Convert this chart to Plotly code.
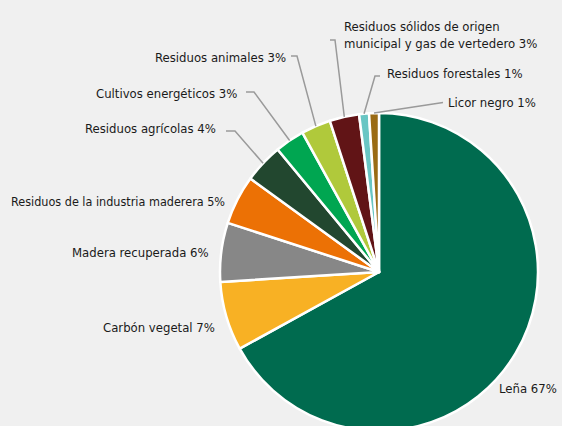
import math
import plotly.graph_objects as go

# ---- data ----
labels = ["Leña", "Carbón vegetal", "Madera recuperada",
          "Residuos de la industria maderera", "Residuos agrícolas",
          "Cultivos energéticos", "Residuos animales",
          "Residuos sólidos de origen municipal y gas de vertedero",
          "Residuos forestales", "Licor negro"]
values = [67, 7, 6, 5, 4, 3, 3, 3, 1, 1]
label_texts = ["Leña 67%", "Carbón vegetal 7%", "Madera recuperada 6%",
               "Residuos de la industria maderera 5%", "Residuos agrícolas 4%",
               "Cultivos energéticos 3%", "Residuos animales 3%",
               "Residuos sólidos de origen<br>municipal y gas de vertedero 3%",
               "Residuos forestales 1%", "Licor negro 1%"]
colors = ["#006b4f", "#f8b124", "#878787", "#ec7105", "#22472f",
          "#00a651", "#b0c93b", "#611416", "#69c6c4", "#9a6b14"]

# ---- layout / styling ----
W, H = 562, 436
CX, CY, R = 379, 272, 159
# label placement (pixel coords): x, y, anchor, font size, leader elbow points
label_style = [
    (559, 388, "right", 13, None),
    (217, 327, "right", 13, None),
    (211, 252, "right", 13, None),
    (227, 201, "right", 12.5, None),
    (218, 129, "right", 13, [(235, 131), (226, 131)]),
    (239, 93, "right", 13, [(254, 92), (246, 92)]),
    (288, 57, "right", 13, [(297, 56), (291, 56)]),
    (342, 35, "left", 13, [(335, 40), (330, 40)]),
    (385, 74, "left", 13, [(375, 76), (380, 76)]),
    (446, 103, "left", 13, [(443, 102.5)]),
]
FONT = "DejaVu Sans Condensed, Liberation Sans Narrow, Arial Narrow, sans-serif"


def px(x):
    return x / W


def py(y):
    return 1 - y / H


fig = go.Figure(go.Pie(
    labels=labels, values=values, sort=False, direction="clockwise",
    rotation=0, textinfo="none", hoverinfo="label+percent",
    marker=dict(colors=colors, line=dict(color="white", width=2.5)),
    domain=dict(x=[(CX - R) / W, (CX + R) / W],
                y=[1 - (CY + R) / H, 1 - (CY - R) / H]),
    showlegend=False,
))

total = sum(values)
cum = 0
shapes = []
annotations = []
for v, txt, (lx, ly, anc, fs, elbows) in zip(values, label_texts, label_style):
    mid = (cum + v / 2) / total * 2 * math.pi
    cum += v
    if elbows:
        sx = CX + R * math.sin(mid)
        sy = CY - R * math.cos(mid)
        pts = [(sx, sy)] + elbows
        path = "M " + " L ".join(f"{px(a):.5f},{py(b):.5f}" for a, b in pts)
        shapes.append(dict(type="path", path=path, xref="paper", yref="paper",
                           line=dict(color="#9a9a9a", width=1.5)))
    annotations.append(dict(x=px(lx), y=py(ly), xref="paper", yref="paper",
                            text=txt, showarrow=False, xanchor=anc,
                            yanchor="middle", align="left",
                            font=dict(family=FONT, size=fs, color="#1a1a1a")))

fig.update_layout(
    width=W, height=H, margin=dict(l=0, r=0, t=0, b=0),
    paper_bgcolor="#f0f0f0", plot_bgcolor="#f0f0f0",
    shapes=shapes, annotations=annotations,
)

fig.write_html("out.html", config={"displayModeBar": False},
               post_script="document.body.style.margin='0';document.body.style.overflow='hidden';")
